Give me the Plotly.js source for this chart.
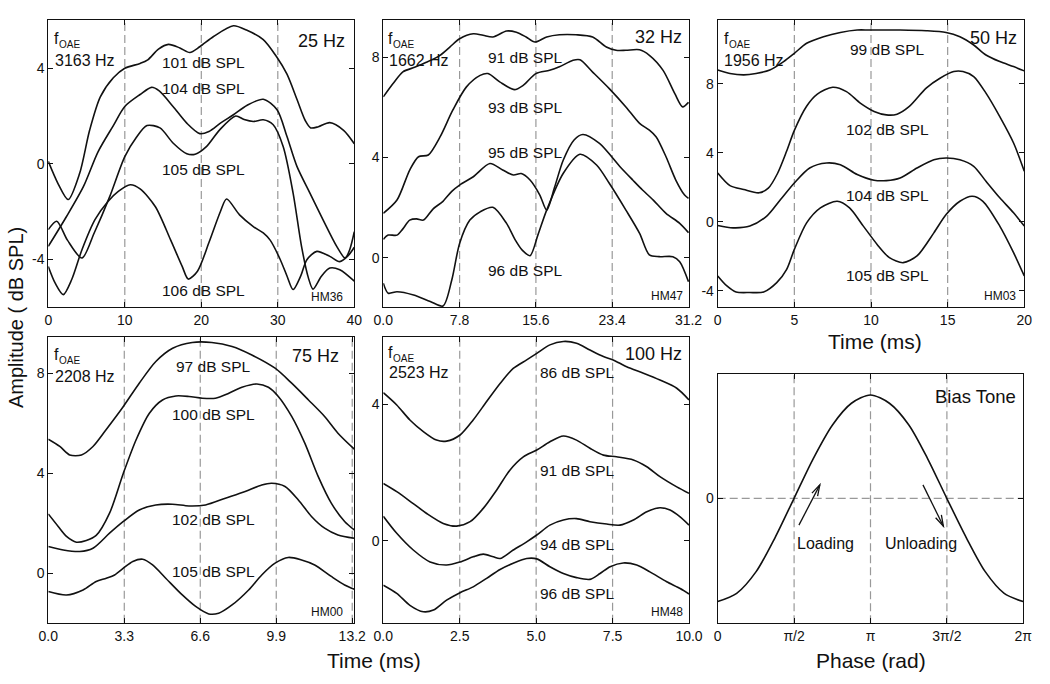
<!DOCTYPE html>
<html><head><meta charset="utf-8">
<script src="https://cdn.plot.ly/plotly-3.0.1.min.js"></script>
<style>html,body{margin:0;padding:0;background:#fff}#chart{width:1050px;height:684px}</style>
</head><body><div id="chart"></div>
<script>
// ---------- DATA ----------
// Panel 25 Hz (HM36)
const x25_101 = [0, 1.3, 2.6, 4.1, 5.4, 6.8, 8.5, 10, 12, 13, 14.4, 15.7, 17.2, 18.5, 19.8, 21.6, 24.2, 25.9, 28.1, 29.8, 31.2, 32.5, 33.6, 34.3, 35.3, 36.8, 38.6, 40];
const y25_101 = [0.1, -0.85, -1.5, -0.4, 1.4, 2.8, 3.6, 4.0, 4.2, 4.35, 4.8, 5.0, 4.85, 4.66, 4.9, 5.33, 5.78, 5.6, 5.2, 4.5, 3.75, 2.7, 1.8, 1.5, 1.55, 1.72, 1.4, 0.84];
const x25_104 = [0, 2.4, 4.6, 6.5, 8.5, 10, 12, 13.5, 14.5, 16.3, 18.1, 19.8, 21, 22.5, 24.2, 26, 28.1, 29.9, 31.2, 32.5, 34.2, 35.9, 37.7, 38.8, 39.4, 40];
const y25_104 = [-3.46, -2.2, -0.95, 0.5, 1.6, 2.4, 2.9, 3.2, 3.05, 2.4, 1.7, 1.26, 1.35, 1.7, 2.05, 2.45, 2.7, 2.26, 1.14, -0.11, -1.23, -2.34, -3.46, -3.95, -3.6, -2.85];
const x25_105 = [0, 1.1, 2.5, 4.4, 6, 8, 10, 11.5, 12.9, 14.6, 16.3, 18.1, 19.2, 20.7, 22.4, 24.5, 25.6, 26.8, 28.1, 29.4, 30.7, 32.0, 33.1, 34.0, 34.6, 35.7, 36.8, 38.1, 40];
const y25_105 = [-2.76, -2.41, -3.2, -3.95, -2.9, -1.4, 0.3, 1.1, 1.6, 1.5, 0.87, 0.42, 0.4, 0.73, 1.42, 2.0, 1.85, 1.77, 1.84, 1.63, 0.72, -1.23, -3.46, -4.78, -5.25, -4.71, -4.37, -4.44, -4.92];
const x25_106 = [0, 0.9, 1.96, 3.06, 4.4, 6.1, 7.8, 9.15, 10.7, 12, 14, 16, 17.5, 18.3, 19.5, 21, 22.5, 23.3, 25, 26.8, 28.1, 29, 30.3, 31.2, 32, 33, 33.8, 35.1, 36.8, 38.1, 39.2, 40];
const y25_106 = [-4.3, -5.0, -5.48, -4.85, -3.6, -2.34, -1.58, -1.16, -0.88, -1.05, -1.8, -3.2, -4.3, -4.83, -4.5, -3.3, -2.0, -1.48, -2.14, -2.63, -2.9, -3.2, -4.0, -4.7, -5.27, -4.7, -4.02, -3.67, -3.88, -4.1, -3.85, -3.5];

// Panel 32 Hz (HM47)
const x32_91 = [0, 1.0, 2.0, 3.2, 4.4, 5.8, 6.8, 7.8, 9.2, 10.2, 11.2, 12.6, 13.6, 14.6, 15.5, 16.7, 18.0, 19.7, 21.4, 22.8, 23.8, 24.8, 26.2, 27.2, 28.6, 29.8, 30.6, 31.2];
const y32_91 = [6.42, 6.95, 7.42, 7.6, 7.8, 8.08, 8.41, 8.74, 8.94, 8.88, 8.81, 9.05, 9.0, 8.81, 8.61, 8.81, 8.9, 8.9, 8.81, 8.41, 8.28, 8.28, 8.3, 8.08, 7.48, 6.55, 6.02, 6.2];
const x32_93 = [0, 1.4, 2.7, 3.6, 4.6, 5.8, 7.1, 8.5, 9.9, 10.7, 11.9, 13.4, 14.3, 15.6, 17.0, 18.0, 19.4, 20.1, 21.4, 23.1, 24.8, 26.2, 27.2, 27.9, 28.9, 29.9, 30.8, 31.2];
const y32_93 = [1.77, 2.3, 3.5, 4.03, 4.1, 4.82, 5.89, 6.82, 7.28, 7.35, 7.02, 6.71, 6.88, 7.35, 7.48, 7.62, 7.88, 7.9, 7.41, 6.75, 6.02, 5.36, 5.09, 4.82, 4.03, 3.1, 2.5, 2.37];
const x32_95 = [0, 0.5, 1.4, 2.0, 2.7, 3.4, 4.1, 5.1, 6.1, 7.0, 7.8, 9.2, 10.9, 12.2, 13.3, 14.1, 15.0, 16.0, 16.7, 17.5, 18.4, 19.5, 20.4, 22.1, 24.2, 25.5, 26.5, 27.6, 28.9, 30.3, 31.2];
const y32_95 = [0.73, 0.9, 0.9, 1.15, 1.5, 1.55, 1.5, 1.95, 2.25, 2.65, 2.9, 3.23, 3.76, 3.5, 3.3, 3.36, 3.1, 2.5, 1.9, 2.8, 3.9, 4.7, 4.92, 4.56, 3.63, 3.1, 2.7, 2.3, 1.77, 1.37, 1.0];
const x32_96 = [0, 0.5, 1.4, 3.1, 4.8, 6.1, 7.0, 7.8, 8.85, 9.9, 11.2, 12.6, 13.5, 14.2, 15.0, 15.8, 16.7, 18.4, 20.1, 21.8, 23.1, 24.8, 26.2, 27.2, 28.2, 29.6, 30.3, 31.2];
const y32_96 = [-1.02, -1.42, -1.36, -1.49, -1.75, -1.93, -0.89, 0.57, 1.5, 1.83, 2.01, 1.37, 0.7, 0.3, 0.08, 0.9, 1.9, 3.37, 4.13, 3.7, 2.97, 1.9, 0.97, 0.11, 0.04, 0.04, -0.16, -0.96];

// Panel 50 Hz (HM03)
const x50_99 = [0, 0.8, 1.7, 2.5, 3.4, 4.3, 5.0, 5.8, 6.9, 8.0, 9.1, 9.9, 11.9, 13.6, 14.9, 15.8, 16.7, 17.5, 18.4, 19.3, 20];
const y50_99 = [8.8, 8.6, 8.52, 8.6, 8.8, 9.29, 9.77, 10.35, 10.73, 10.98, 11.12, 11.12, 11.12, 11.08, 10.98, 10.73, 10.25, 9.67, 9.29, 9.0, 8.75];
const x50_102 = [0, 0.8, 1.7, 2.7, 3.3, 3.9, 4.5, 5.0, 5.8, 6.5, 7.5, 8.4, 9.3, 10.2, 11.0, 11.7, 12.5, 13.6, 14.5, 15.4, 16.0, 16.7, 17.5, 18.4, 19.3, 20];
const y50_102 = [2.83, 2.1, 1.87, 1.68, 1.95, 2.8, 4.1, 5.3, 6.7, 7.4, 7.8, 7.55, 6.88, 6.4, 6.2, 6.24, 6.69, 7.75, 8.32, 8.71, 8.71, 8.42, 7.46, 6.1, 4.57, 2.93];
const x50_104 = [0, 1.0, 2.1, 3.2, 4.1, 5.0, 6.0, 7.1, 8.0, 9.1, 10.2, 11.0, 11.9, 13.0, 14.1, 14.9, 15.8, 16.7, 17.5, 18.4, 19.3, 20];
const y50_104 = [-0.21, -0.35, -0.25, 0.33, 1.29, 2.25, 3.12, 3.41, 3.31, 2.74, 2.41, 2.39, 2.54, 3.12, 3.6, 3.7, 3.6, 3.22, 2.35, 1.39, 0.52, -0.25];
const x50_105 = [0, 0.6, 1.2, 2.1, 3.0, 3.85, 4.5, 5.0, 5.8, 6.7, 7.8, 8.6, 9.5, 10.4, 11.2, 12.1, 13.0, 14.1, 14.9, 15.8, 16.6, 17.3, 18.4, 19.3, 20];
const y50_105 = [-3.14, -3.72, -4.07, -4.1, -4.07, -3.53, -2.76, -1.6, -0.06, 0.81, 1.19, 0.81, -0.25, -1.31, -2.08, -2.37, -1.98, -0.64, 0.42, 1.19, 1.48, 1.19, -0.25, -1.79, -3.14];

// Panel 75 Hz (HM00)
const x75_97 = [0, 0.5, 0.93, 1.44, 1.94, 2.5, 3.26, 3.95, 4.67, 5.4, 6.25, 7.1, 7.98, 8.84, 9.85, 10.57, 11.3, 12.0, 12.58, 13.29];
const y75_97 = [5.36, 5.07, 4.73, 4.73, 5.07, 5.73, 6.67, 7.6, 8.47, 9.0, 9.23, 9.23, 9.07, 8.73, 8.2, 7.6, 6.93, 6.27, 5.6, 4.96];
const x75_100 = [0, 0.43, 0.79, 1.22, 1.65, 2.08, 2.66, 3.26, 3.81, 4.39, 4.96, 5.54, 6.11, 6.69, 7.26, 7.84, 8.41, 9.06, 9.56, 9.99, 10.57, 11.14, 11.72, 12.29, 12.87, 13.29];
const y75_100 = [2.37, 1.87, 1.47, 1.24, 1.31, 1.51, 2.4, 4.0, 5.33, 6.4, 6.93, 7.09, 7.07, 7.0, 7.0, 7.2, 7.44, 7.57, 7.44, 7.07, 6.27, 5.2, 3.87, 2.8, 2.07, 1.73];
const x75_102 = [0, 0.65, 1.37, 1.94, 2.66, 3.26, 3.95, 4.67, 5.39, 6.11, 6.83, 7.69, 8.55, 9.27, 9.7, 10.28, 10.86, 11.43, 12.0, 12.58, 13.29];
const y75_102 = [1.07, 0.93, 0.87, 1.0, 1.6, 2.07, 2.53, 2.73, 2.76, 2.69, 2.73, 3.0, 3.27, 3.53, 3.6, 3.47, 2.93, 2.27, 1.8, 1.53, 1.4];
const x75_105 = [0, 0.79, 1.51, 2.08, 2.52, 2.88, 3.26, 3.67, 4.1, 4.53, 5.1, 5.82, 6.4, 6.97, 7.4, 7.98, 8.7, 9.27, 9.85, 10.42, 11.0, 11.57, 12.29, 12.87, 13.29];
const y75_105 = [-0.73, -0.87, -0.67, -0.33, -0.2, -0.07, 0.2, 0.47, 0.56, 0.33, -0.2, -0.87, -1.33, -1.63, -1.6, -1.27, -0.67, -0.07, 0.4, 0.63, 0.53, 0.33, -0.13, -0.47, -0.64];

// Panel 100 Hz (HM48)
const x100_86 = [0, 0.44, 0.87, 1.31, 1.74, 2.07, 2.51, 2.94, 3.38, 3.82, 4.25, 4.69, 5.02, 5.45, 5.89, 6.32, 6.76, 7.2, 7.52, 7.96, 8.51, 9.05, 9.6, 10];
const y100_86 = [4.34, 3.98, 3.54, 3.2, 2.95, 2.92, 3.1, 3.54, 4.08, 4.61, 5.05, 5.3, 5.49, 5.74, 5.84, 5.79, 5.59, 5.4, 5.3, 5.1, 4.91, 4.71, 4.47, 4.13];
const x100_91 = [0, 0.44, 0.98, 1.42, 1.96, 2.4, 2.84, 3.27, 3.71, 4.14, 4.58, 5.02, 5.45, 5.89, 6.32, 6.76, 7.2, 7.63, 8.18, 8.62, 9.05, 9.6, 10];
const y100_91 = [1.68, 1.44, 1.09, 0.8, 0.51, 0.43, 0.56, 0.95, 1.49, 2.07, 2.46, 2.66, 2.9, 3.07, 2.95, 2.71, 2.51, 2.46, 2.37, 2.17, 1.88, 1.58, 1.39];
const x100_94 = [0, 0.44, 0.98, 1.53, 2.07, 2.51, 2.94, 3.27, 3.6, 3.82, 4.25, 4.69, 5.02, 5.45, 5.89, 6.32, 6.76, 7.31, 7.74, 8.18, 8.62, 9.05, 9.38, 9.71, 10];
const y100_94 = [0.72, 0.22, -0.27, -0.62, -0.71, -0.62, -0.47, -0.39, -0.47, -0.52, -0.27, -0.03, 0.17, 0.46, 0.61, 0.65, 0.56, 0.49, 0.46, 0.61, 0.85, 0.97, 0.9, 0.7, 0.46];
const x100_96 = [0, 0.44, 0.87, 1.31, 1.64, 2.07, 2.51, 2.94, 3.38, 3.82, 4.25, 4.69, 5.02, 5.45, 5.89, 6.32, 6.76, 7.09, 7.42, 7.85, 8.29, 8.72, 9.27, 9.71, 10];
const y100_96 = [-1.3, -1.54, -1.89, -2.08, -2.03, -1.74, -1.52, -1.35, -1.1, -0.84, -0.66, -0.52, -0.53, -0.76, -0.96, -1.08, -1.13, -0.96, -0.76, -0.65, -0.71, -0.91, -1.2, -1.4, -1.56];

// Bias tone panel (phase in rad, normalised amplitude)
const phase = [0, 0.39, 0.79, 1.18, 1.57, 1.96, 2.36, 2.75, 3.14, 3.53, 3.93, 4.32, 4.71, 5.11, 5.50, 5.89, 6.28];
const biasTone = [-1, -0.92, -0.71, -0.38, 0, 0.38, 0.71, 0.92, 1, 0.92, 0.71, 0.38, 0, -0.38, -0.71, -0.92, -1];

// Tick values / labels
const ticks25 = [0, 10, 20, 30, 40];
const ticks32 = [0, 7.8, 15.6, 23.4, 31.2];
const tickText32 = ['0.0', '7.8', '15.6', '23.4', '31.2'];
const ticks50 = [0, 5, 10, 15, 20];
const ticks75 = [0, 3.3, 6.6, 9.9, 13.2];
const tickText75 = ['0.0', '3.3', '6.6', '9.9', '13.2'];
const ticks100 = [0, 2.5, 5, 7.5, 10];
const tickText100 = ['0.0', '2.5', '5.0', '7.5', '10.0'];
const ticksPhase = [0, Math.PI / 2, Math.PI, 3 * Math.PI / 2, 2 * Math.PI];
const tickTextPhase = ['0', 'π/2', 'π', '3π/2', '2π'];

// ---------- BUILD ----------
const FONT = 'Liberation Sans, Arial, Helvetica, sans-serif';
const W = 1050, H = 684;
const px = v => v / W, py = v => 1 - v / H;

const traces = [];
function addLine(ax, xs, ys) {
  traces.push({
    x: xs, y: ys, type: 'scatter', mode: 'lines',
    xaxis: 'x' + (ax === 1 ? '' : ax), yaxis: 'y' + (ax === 1 ? '' : ax),
    line: {color: '#111', width: 1.6, shape: 'spline', smoothing: 0.8},
    hoverinfo: 'skip'
  });
}
addLine(1, x25_101, y25_101); addLine(1, x25_104, y25_104); addLine(1, x25_105, y25_105); addLine(1, x25_106, y25_106);
addLine(2, x32_91, y32_91); addLine(2, x32_93, y32_93); addLine(2, x32_95, y32_95); addLine(2, x32_96, y32_96);
addLine(3, x50_99, y50_99); addLine(3, x50_102, y50_102); addLine(3, x50_104, y50_104); addLine(3, x50_105, y50_105);
addLine(4, x75_97, y75_97); addLine(4, x75_100, y75_100); addLine(4, x75_102, y75_102); addLine(4, x75_105, y75_105);
addLine(5, x100_86, y100_86); addLine(5, x100_91, y100_91); addLine(5, x100_94, y100_94); addLine(5, x100_96, y100_96);
addLine(6, phase, biasTone);

const panels = [
  {xd: [48.3, 354.3], yd: [20, 307], xr: [0, 40], yr: [-6, 6.02], xt: ticks25, xtt: ticks25.map(String), yt: [-4, 0, 4], dash: ticks25.slice(1, 4)},
  {xd: [383.3, 689], yd: [20, 307], xr: [0, 31.25], yr: [-1.97, 9.49], xt: ticks32, xtt: tickText32, yt: [0, 4, 8], dash: ticks32.slice(1, 4)},
  {xd: [717.7, 1024.3], yd: [20, 307], xr: [0, 20], yr: [-4.94, 11.7], xt: ticks50, xtt: ticks50.map(String), yt: [-4, 0, 4, 8], dash: ticks50.slice(1, 4)},
  {xd: [48.3, 354.3], yd: [336.7, 622.7], xr: [0, 13.29], yr: [-1.98, 9.46], xt: ticks75, xtt: tickText75, yt: [0, 4, 8], dash: ticks75.slice(1, 5)},
  {xd: [383.3, 689], yd: [336.7, 622.7], xr: [0, 10], yr: [-2.4, 5.98], xt: ticks100, xtt: tickText100, yt: [0, 4], dash: ticks100.slice(1, 4)},
  {xd: [717.7, 1023.3], yd: [374.3, 623.3], xr: [0, 2 * Math.PI], yr: [-1.21, 1.2], xt: ticksPhase, xtt: tickTextPhase, yt: [0], dash: ticksPhase.slice(1, 4)}
];

const layout = {
  width: W, height: H, margin: {l: 0, r: 0, t: 0, b: 0},
  paper_bgcolor: '#fff', plot_bgcolor: '#fff', showlegend: false,
  font: {family: FONT, color: '#111', size: 14},
  shapes: [], annotations: []
};

panels.forEach((p, i) => {
  const n = i + 1, s = n === 1 ? '' : n;
  const common = {
    showline: true, linecolor: '#111', linewidth: 1, mirror: 'ticks',
    ticks: 'inside', ticklen: 5, tickwidth: 1, tickcolor: '#111',
    showgrid: false, zeroline: false, fixedrange: true,
    tickfont: {family: FONT, size: 14, color: '#111'}
  };
  layout['xaxis' + s] = Object.assign({}, common, {
    domain: [px(p.xd[0]), px(p.xd[1])], range: p.xr, anchor: 'y' + s,
    tickmode: 'array', tickvals: p.xt, ticktext: p.xtt
  });
  layout['yaxis' + s] = Object.assign({}, common, {
    domain: [py(p.yd[1]), py(p.yd[0])], range: p.yr, anchor: 'x' + s,
    tickmode: 'array', tickvals: p.yt, ticktext: p.yt.map(String)
  });
  p.dash.forEach(v => layout.shapes.push({
    type: 'line', xref: 'x' + s, yref: 'y' + s + ' domain', x0: v, x1: v, y0: 0, y1: 1,
    line: {color: '#999', width: 1.2, dash: '8px,4px'}, layer: 'below'
  }));
});
// horizontal zero line in bias tone panel
layout.shapes.push({type: 'line', xref: 'x6 domain', yref: 'y6', x0: 0, x1: 1, y0: 0, y1: 0,
  line: {color: '#999', width: 1.2, dash: '8px,4px'}, layer: 'below'});

function txt(text, x, y, size, anchor, extra) {
  layout.annotations.push(Object.assign({
    text: text, xref: 'paper', yref: 'paper', x: px(x), y: py(y),
    xanchor: anchor || 'center', yanchor: 'middle', showarrow: false,
    font: {family: FONT, size: size, color: '#111'}
  }, extra || {}));
}
function foae(x, y) { // "f" with subscript "OAE"
  txt('f', x, y - 2, 16, 'left');
  txt('OAE', x + 5, y + 4, 10, 'left');
}
const SZ = 15.5;
// panel 1
foae(52, 40); txt('3163 Hz', 53, 61, 16, 'left'); txt('25 Hz', 347, 41, 18, 'right');
txt('101 dB SPL', 203, 62, SZ); txt('104 dB SPL', 203, 88, SZ); txt('105 dB SPL', 203, 170, SZ); txt('106 dB SPL', 203, 290, SZ);
txt('HM36', 345, 297, 12, 'right');
// panel 2
foae(386, 40); txt('1662 Hz', 387, 61, 16, 'left'); txt('32 Hz', 684, 37, 18, 'right');
txt('91 dB SPL', 525, 57, SZ); txt('93 dB SPL', 525, 107, SZ); txt('95 dB SPL', 525, 152, SZ); txt('96 dB SPL', 525, 270, SZ);
txt('HM47', 685, 296, 12, 'right');
// panel 3
foae(722, 40); txt('1956 Hz', 722, 60, 16, 'left'); txt('50 Hz', 1019, 38, 18, 'right');
txt('99 dB SPL', 887, 50, SZ); txt('102 dB SPL', 887, 130, SZ); txt('104 dB SPL', 887, 195, SZ); txt('105 dB SPL', 887, 275, SZ);
txt('HM03', 1018, 296, 12, 'right');
// panel 4
foae(52, 356); txt('2208 Hz', 53, 376, 16, 'left'); txt('75 Hz', 341, 356, 18, 'right');
txt('97 dB SPL', 213, 366, SZ); txt('100 dB SPL', 213, 414, SZ); txt('102 dB SPL', 213, 519, SZ); txt('105 dB SPL', 213, 571, SZ);
txt('HM00', 345, 612, 12, 'right');
// panel 5
foae(386, 354); txt('2523 Hz', 387, 372, 16, 'left'); txt('100 Hz', 684, 354, 18, 'right');
txt('86 dB SPL', 577, 372, SZ); txt('91 dB SPL', 577, 470, SZ); txt('94 dB SPL', 577, 544, SZ); txt('96 dB SPL', 577, 593, SZ);
txt('HM48', 685, 612, 12, 'right');
// panel 6
txt('Bias Tone', 1018, 396, 18.5, 'right');
txt('Loading', 825, 543, 16); txt('Unloading', 921, 543, 16);
// axis titles
txt('Amplitude ( dB SPL)', 16, 318, 20, 'center', {textangle: -90});
txt('Time (ms)', 875, 341, 21); txt('Time (ms)', 374, 660, 21); txt('Phase (rad)', 871, 660, 21);

// arrows (loading / unloading) drawn as shapes in the bias-tone panel
const p6 = panels[5];
const kx = (p6.xd[1] - p6.xd[0]) / (p6.xr[1] - p6.xr[0]);
const ky = (p6.yd[1] - p6.yd[0]) / (p6.yr[1] - p6.yr[0]);
function arrow(x0, y0, x1, y1) { // tail -> head, data coords
  layout.shapes.push({type: 'line', xref: 'x6', yref: 'y6', x0: x0, y0: y0, x1: x1, y1: y1,
    line: {color: '#111', width: 1.3}});
  const dxp = (x1 - x0) * kx, dyp = (y1 - y0) * ky, L = Math.hypot(dxp, dyp);
  const ux = dxp / L, uy = dyp / L, len = 11, half = 3.2;
  const bx = -ux * len, by = -uy * len, nx = -uy * half, ny = ux * half;
  const pA = [x1 + (bx + nx) / kx, y1 + (by + ny) / ky];
  const pB = [x1 + (bx - nx) / kx, y1 + (by - ny) / ky];
  layout.shapes.push({type: 'path', xref: 'x6', yref: 'y6',
    path: `M${pA[0]},${pA[1]} L${x1},${y1} L${pB[0]},${pB[1]}`,
    line: {color: '#111', width: 1.3}});
}
arrow(1.67, -0.26, 2.10, 0.13);
arrow(4.22, 0.13, 4.64, -0.27);

Plotly.newPlot('chart', traces, layout, {displayModeBar: false, staticPlot: true});
</script></body></html>
